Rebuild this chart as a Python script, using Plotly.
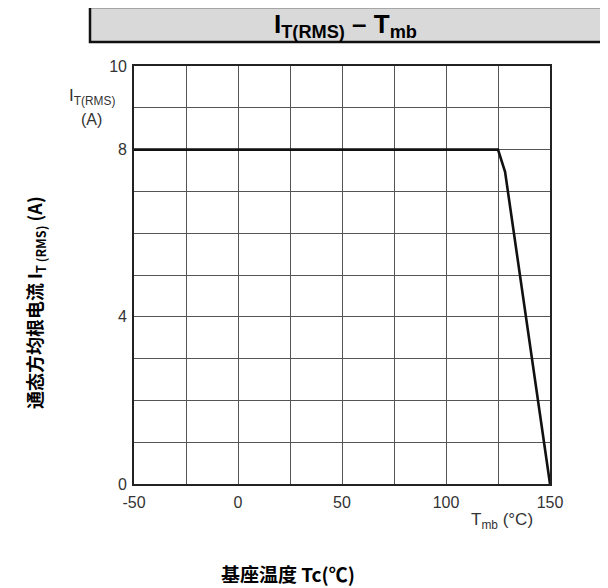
import plotly.graph_objects as go

# Data
temp_c = [-50, 125, 128.4, 150]
current_a = [8, 8, 7.47, 0]

x_tick_vals = [-50, -25, 0, 25, 50, 75, 100, 125, 150]
x_tick_text = ["-50", "", "0", "", "50", "", "100", "", "150"]
y_tick_vals = [0, 1, 2, 3, 4, 5, 6, 7, 8, 9, 10]
y_tick_text = ["0", "", "", "", "4", "", "", "", "8", "", "10"]

OFF = 8  # page body margin
W, H = 608 - OFF, 588 - OFF
L, R, T, B = 134 - OFF, 58, 66 - OFF, 104
PW, PH = W - L - R, H - T - B

def px(x):
    return (x - OFF - L) / PW

def py(y):
    return (H - B - (y - OFF)) / PH

fig = go.Figure()
fig.add_trace(go.Scatter(x=temp_c, y=current_a, mode="lines",
                         line=dict(color="#111111", width=2.6), showlegend=False,
                         hoverinfo="skip"))

grid = "#555555"
tickfont = dict(family="Liberation Sans, Arial", size=16, color="#333333")
fig.update_xaxes(range=[-50, 150], tickmode="array", tickvals=x_tick_vals, ticktext=x_tick_text,
                 showgrid=True, gridcolor=grid, gridwidth=1.3, zeroline=False,
                 showline=True, linecolor="#222222", linewidth=1.6, mirror=True,
                 ticks="", tickfont=tickfont, ticklabelstandoff=3, fixedrange=True)
fig.update_yaxes(range=[0, 10], tickmode="array", tickvals=y_tick_vals, ticktext=y_tick_text,
                 showgrid=True, gridcolor=grid, gridwidth=1.3, zeroline=False,
                 showline=True, linecolor="#222222", linewidth=1.6, mirror=True,
                 ticks="", tickfont=tickfont, ticklabelstandoff=2, fixedrange=True)

# Title box
fig.add_shape(type="rect", xref="paper", yref="paper",
              x0=px(90), x1=px(612), y0=py(42), y1=py(7),
              fillcolor="#d9d9d9", line=dict(color="#111111", width=2.5), layer="above")

annots = [
    dict(x=px(345), y=py(25), text="<b>I<sub>T(RMS)</sub> – T<sub>mb</sub></b>",
         font=dict(family="Liberation Sans, Arial", size=26, color="#000000")),
    dict(x=px(92), y=py(97), text="I<sub>T(RMS)</sub>",
         font=dict(family="Liberation Sans, Arial", size=17, color="#333333")),
    dict(x=px(91), y=py(119), text="(A)",
         font=dict(family="Liberation Sans, Arial", size=16, color="#333333")),
    dict(x=px(502), y=py(521), text="T<sub>mb</sub> (°C)",
         font=dict(family="Liberation Sans, Arial", size=17, color="#333333")),
    dict(x=px(288), y=py(573), text="<b>基座温度 Tc(℃)</b>",
         font=dict(family="Noto Sans CJK SC", size=19, color="#000000")),
    dict(x=px(35), y=py(303), text="<b>通态方均根电流 I<sub>T (RMS)</sub> (A)</b>", textangle=-90,
         font=dict(family="Noto Sans CJK SC", size=18, color="#000000")),
]
for a in annots:
    fig.add_annotation(xref="paper", yref="paper", showarrow=False,
                       xanchor="center", yanchor="middle", **a)

fig.update_layout(width=W, height=H, margin=dict(l=L, r=R, t=T, b=B, pad=0),
                  paper_bgcolor="white", plot_bgcolor="white")

fig.write_html("out.html")
